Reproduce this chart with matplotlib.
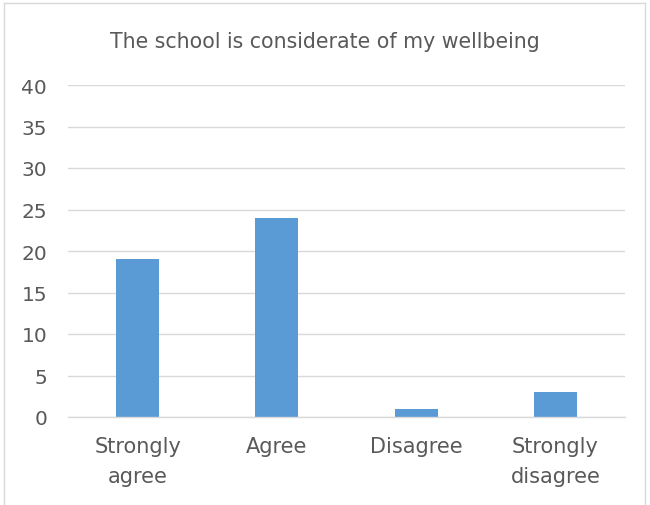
import matplotlib
matplotlib.use("Agg")
import matplotlib.pyplot as plt
from matplotlib.lines import Line2D

categories = ["Strongly\nagree", "Agree", "Disagree", "Strongly\ndisagree"]
values = [19, 24, 1, 3]
yticks = [0, 5, 10, 15, 20, 25, 30, 35, 40]
title = "The school is considerate of my wellbeing"

plt.rcParams['font.family'] = ['DejaVu Sans']
txt = "#595959"

fig = plt.figure(figsize=(6.5, 5.06), dpi=100)
ax = fig.add_axes([68/650, 1-418/506, (625-68)/650, (418-86)/506])

x = list(range(len(categories)))
ax.bar(x, values, width=0.31, color="#5B9BD5", zorder=3)
ax.set_xlim(-0.5, len(categories)-0.5)
ax.set_ylim(0, 40)
ax.set_yticks(yticks)
ax.set_xticks(x)
ax.set_xticklabels(categories, fontsize=15, color=txt, linespacing=1.6)
ax.tick_params(axis='y', labelsize=14.5, colors=txt, length=0, pad=15)
ax.tick_params(axis='x', length=0, pad=14)
ax.grid(axis='y', color="#D9D9D9", linewidth=1, zorder=0)
for s in ["top", "right", "left"]:
    ax.spines[s].set_visible(False)
ax.spines["bottom"].set_color("#D9D9D9")
ax.spines["bottom"].set_linewidth(1)
ax.spines["bottom"].set_zorder(4)

fig.text(0.5, 1-42/506, title, ha="center", va="center", fontsize=14.8, color=txt)

bc = "#D9D9D9"
fig.add_artist(Line2D([4/650, 4/650], [0, 1-4/506], transform=fig.transFigure, color=bc, lw=1))
fig.add_artist(Line2D([4/650, 645/650], [1-4/506, 1-4/506], transform=fig.transFigure, color=bc, lw=1))
fig.add_artist(Line2D([645/650, 645/650], [0, 1-4/506], transform=fig.transFigure, color=bc, lw=1))

fig.savefig("out.png", dpi=100)
